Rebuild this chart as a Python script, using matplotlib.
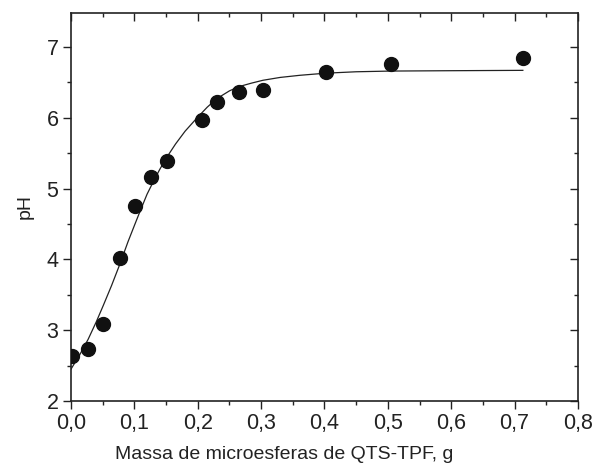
import matplotlib
matplotlib.use('Agg')
import matplotlib.pyplot as plt
from matplotlib.ticker import MultipleLocator, FuncFormatter

plt.rcParams['font.family'] = ['Liberation Sans', 'DejaVu Sans']

# measured points
mass = [0.001, 0.027, 0.051, 0.077, 0.101, 0.126, 0.151, 0.206, 0.230, 0.265, 0.303, 0.402, 0.505, 0.713]
ph = [2.64, 2.74, 3.09, 4.02, 4.75, 5.17, 5.39, 5.97, 6.22, 6.36, 6.39, 6.64, 6.76, 6.84]

# fitted curve
fit_mass = [0.000, 0.013, 0.027, 0.040, 0.051, 0.064, 0.077, 0.090, 0.101, 0.109, 0.120,
            0.130, 0.140, 0.151, 0.165, 0.180, 0.198, 0.215, 0.230, 0.250, 0.265, 0.285,
            0.303, 0.330, 0.361, 0.402, 0.450, 0.505, 0.600, 0.713]
fit_ph = [2.45, 2.64, 2.87, 3.12, 3.35, 3.63, 3.93, 4.25, 4.50, 4.68, 4.92,
          5.10, 5.27, 5.44, 5.63, 5.81, 5.99, 6.15, 6.27, 6.38, 6.44, 6.49,
          6.53, 6.57, 6.60, 6.63, 6.65, 6.66, 6.665, 6.67]

fig = plt.figure(figsize=(5.95, 4.66), dpi=100)
ax = fig.add_axes([0.1193, 0.1395, 0.8521, 0.8326])

ax.plot(fit_mass, fit_ph, color='#222222', lw=0.9, zorder=2)
ax.plot(mass, ph, 'o', color='#111111', ms=10, zorder=3)

ax.set_xlim(0, 0.8)
ax.set_ylim(2, 7.48)
ax.xaxis.set_major_locator(MultipleLocator(0.1))
ax.xaxis.set_minor_locator(MultipleLocator(0.05))
ax.yaxis.set_major_locator(MultipleLocator(1))
ax.yaxis.set_minor_locator(MultipleLocator(0.5))
ax.xaxis.set_major_formatter(FuncFormatter(lambda v, p: f'{v:.1f}'.replace('.', ',')))

for s in ax.spines.values():
    s.set_linewidth(1.2)
    s.set_color('#222222')

ax.tick_params(which='both', direction='out', colors='#222222', width=1.0,
               labelsize=15.5, labelcolor='#222222')
ax.tick_params(which='major', length=6)
ax.tick_params(which='minor', length=3)
ax.tick_params(axis='x', pad=3)
ax.tick_params(axis='y', pad=3)

# mirrored ticks on top and right, pointing inward
top = ax.secondary_xaxis('top')
top.xaxis.set_major_locator(MultipleLocator(0.1))
top.xaxis.set_minor_locator(MultipleLocator(0.05))
top.tick_params(which='both', direction='in', labeltop=False, width=1.0, colors='#222222')
top.tick_params(which='major', length=6)
top.tick_params(which='minor', length=3)
top.spines['top'].set_visible(False)
right = ax.secondary_yaxis('right')
right.yaxis.set_major_locator(MultipleLocator(1))
right.yaxis.set_minor_locator(MultipleLocator(0.5))
right.tick_params(which='both', direction='in', labelright=False, width=1.0, colors='#222222')
right.tick_params(which='major', length=6)
right.tick_params(which='minor', length=3)
right.spines['right'].set_visible(False)

ax.set_xlabel('Massa de microesferas de QTS-TPF, g', fontsize=14, color='#222222')
ax.xaxis.set_label_coords(0.42, -0.117)
ax.set_ylabel('pH', fontsize=14, color='#222222', labelpad=9)

plt.savefig('out.png', dpi=100)
